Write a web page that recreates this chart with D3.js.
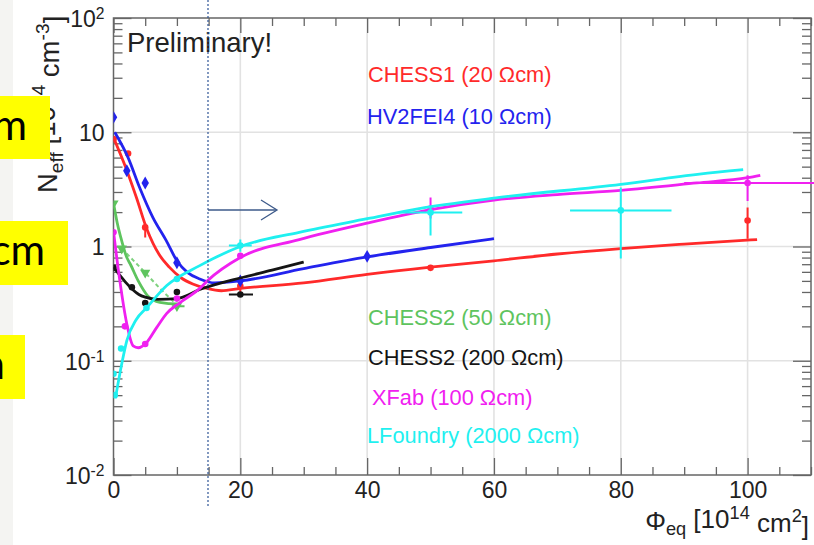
<!DOCTYPE html>
<html><head><meta charset="utf-8">
<script src="https://cdn.jsdelivr.net/npm/d3@7"></script>
<style>body{margin:0;background:#fff}svg{display:block}</style>
</head><body>
<svg id="c" width="814" height="545"></svg>
<script>
// ---- data (phi in 1e14 cm^-2, Neff in 1e14 cm^-3) ----
const xMajorTicks = [0, 20, 40, 60, 80, 100];
const yMajorTicks = [0.01, 0.1, 1, 10, 100];
const yTickLabels = [["10","-2"],["10","-1"],["1",""],["10",""],["10","2"]];

// fitted curves
const chess1Fit = [[0,9.0],[1.7,5.3],[3.6,2.7],[5.3,1.4],[7.2,0.85],[8.8,0.66],[10.7,0.53],[12.5,0.47],[14.7,0.43],[17,0.41],[20,0.43],[30,0.48],[40,0.57],[50,0.66],[60,0.75],[70,0.86],[80,0.96],[90,1.05],[101.5,1.15]];
const hv2fei4Fit = [[0.2,10],[2.3,6.0],[4.1,3.3],[6.2,1.8],[8.3,1.13],[10,0.75],[11.7,0.59],[13.6,0.52],[16,0.48],[20,0.5],[30,0.64],[40,0.81],[50,0.98],[60,1.17]];
const chess2_50Fit = [[0,2.4],[0.6,1.6],[1.3,1.12],[2.1,0.8],[2.6,0.71],[3.9,0.5],[5.4,0.37],[7.3,0.325],[10,0.315],[10.5,0.315]];
const chess2_50Dash = [[1.3,0.96],[5,0.59],[7.5,0.42],[10,0.31]];
const chess2_200Fit = [[0,0.66],[1,0.56],[2,0.48],[3,0.42],[4,0.38],[5,0.36],[7,0.345],[10,0.35],[13.6,0.42],[20,0.53],[25,0.62],[30,0.73]];
const xfabFit = [[0,1.35],[1,0.5],[2.1,0.21],[3.1,0.135],[3.9,0.13],[5.2,0.144],[6.8,0.195],[8.4,0.26],[10.4,0.32],[13.6,0.43],[14.8,0.5],[20,0.8],[29.3,1.15],[40,1.6],[50,2.1],[60,2.55],[70,2.85],[80,3.1],[92,3.6],[100,4.0],[102,4.2]];
const lfoundryFit = [[0.3,0.047],[1.4,0.1],[2.1,0.15],[3.6,0.23],[5.2,0.29],[8.4,0.455],[13.6,0.68],[20,1.0],[29.3,1.33],[40,1.75],[48.2,2.15],[60,2.65],[80,3.5],[92.4,4.3],[99.3,4.7]];

// measured points: [phi, Neff, phiLo, phiHi, NeffLo, NeffHi]
const chess1Pts = [[0,8.7],[2.3,6.5],[5,1.47,null,null,1.2,1.6],[20,0.45,null,null,0.4,0.5],[50,0.65],[100,1.69,null,null,1.17,2.2]];
const hv2fei4Pts = [[0,13.5],[2.1,4.6],[5,3.6],[10,0.72],[20,0.5],[40,0.82]];
const chess2_50Pts = [[0,2.38],[1.3,0.96],[5,0.59],[10,0.3,9.2,11.2,null,null]];
const chess2_200Pts = [[0,0.65],[2.9,0.44],[5,0.32],[10,0.4],[20,0.38,18.2,22,null,null]];
const xfabPts = [[0,1.33],[1.8,0.2],[5,0.14],[10,0.35],[20,0.83],[50,2.15,null,null,1.76,2.69],[100,3.6,90,112,2.5,4.2]];
const lfoundryPts = [[0,0.077],[0.2,0.05],[1.2,0.128],[5.2,0.29],[10,0.52],[20,1.02,18.2,21.8,0.9,1.15],[50,1.98,45,55,1.25,2.2],[80,2.07,72,88,0.785,3.29]];

const legendLabels = ["CHESS1 (20 Ωcm)","HV2FEI4 (10 Ωcm)","CHESS2 (50 Ωcm)","CHESS2 (200 Ωcm)","XFab (100 Ωcm)","LFoundry (2000 Ωcm)"];
const boxTexts = ["m","cm","n"];

// ---- drawing ----
const svg = d3.select("#c");
const X0 = 113.5, X1 = 811, Y0 = 475, Y1 = 18;
const x = d3.scaleLinear().domain([0,110]).range([X0,X1]);
const y = d3.scaleLog().domain([0.01,100]).range([Y0,Y1]);

svg.append("rect").attr("x",0).attr("y",0).attr("width",13).attr("height",545).attr("fill","#f4f4f2");

// grid
const g = svg.append("g");
g.selectAll(".vg").data(xMajorTicks.slice(1)).join("line")
  .attr("x1",d=>x(d)).attr("x2",d=>x(d)).attr("y1",Y1).attr("y2",Y0)
  .attr("stroke","#e2e2e2").attr("stroke-width",1.6);
g.selectAll(".hg").data([0.1,1,10]).join("line")
  .attr("x1",X0).attr("x2",X1).attr("y1",d=>y(d)).attr("y2",d=>y(d))
  .attr("stroke","#e2e2e2").attr("stroke-width",1.6);

const minorX = d3.range(0,111,5).filter(v=>v%20!==0);
const minorY = [];
[0.01,0.1,1,10].forEach(dd=>{for(let k=2;k<=9;k++) minorY.push(dd*k);});

function styleAxis(sel){
  sel.select(".domain").remove();
  sel.selectAll(".tick line").attr("stroke","#666").attr("stroke-width",1.3);
}
const font = "'Liberation Sans', Arial, sans-serif";

// bottom
const bAx = svg.append("g").attr("transform",`translate(0,${Y0})`)
  .call(d3.axisBottom(x).tickValues(xMajorTicks).tickSize(-17).tickPadding(7).tickFormat(d3.format("d")));
styleAxis(bAx);
bAx.selectAll("text").attr("font-family",font).attr("font-size",23).attr("fill","#222");
const bMin = svg.append("g").attr("transform",`translate(0,${Y0})`)
  .call(d3.axisBottom(x).tickValues(minorX).tickSize(-8).tickFormat(""));
styleAxis(bMin);
// top
const tAx = svg.append("g").attr("transform",`translate(0,${Y1})`)
  .call(d3.axisTop(x).tickValues(xMajorTicks).tickSize(-15).tickFormat(""));
styleAxis(tAx);
const tMin = svg.append("g").attr("transform",`translate(0,${Y1})`)
  .call(d3.axisTop(x).tickValues(minorX).tickSize(-8).tickFormat(""));
styleAxis(tMin);
// left
const lAx = svg.append("g").attr("transform",`translate(${X0},0)`)
  .call(d3.axisLeft(y).tickValues(yMajorTicks).tickSize(-18).tickPadding(8).tickFormat(""));
styleAxis(lAx);
lAx.selectAll(".tick").each(function(d,i){
  const t = d3.select(this).select("text").attr("font-family",font).attr("font-size",23).attr("fill","#222").attr("dy","0.36em");
  const lab = yTickLabels[i];
  t.text(null);
  t.append("tspan").text(lab[0]);
  if(lab[1]) t.append("tspan").attr("dy","-0.5em").attr("font-size","0.68em").text(lab[1]);
});
lAx.selectAll(".tick text").attr("x",-9);
const lMin = svg.append("g").attr("transform",`translate(${X0},0)`)
  .call(d3.axisLeft(y).tickValues(minorY).tickSize(-9).tickFormat(""));
styleAxis(lMin);
// right
const rAx = svg.append("g").attr("transform",`translate(${X1},0)`)
  .call(d3.axisRight(y).tickValues(yMajorTicks).tickSize(-18).tickFormat(""));
styleAxis(rAx);
const rMin = svg.append("g").attr("transform",`translate(${X1},0)`)
  .call(d3.axisRight(y).tickValues(minorY).tickSize(-9).tickFormat(""));
styleAxis(rMin);

// frame
svg.append("rect").attr("x",X0).attr("y",Y1).attr("width",X1-X0).attr("height",Y0-Y1)
  .attr("fill","none").attr("stroke","#666").attr("stroke-width",1.5);

// clip
svg.append("clipPath").attr("id","clip").append("rect").attr("x",X0).attr("y",Y1).attr("width",X1-X0+3).attr("height",Y0-Y1+8);
const plot = svg.append("g").attr("clip-path","url(#clip)");

const series = [
  {fit:chess1Fit, pts:chess1Pts, color:"#ff2a2a", marker:"circle"},
  {fit:hv2fei4Fit, pts:hv2fei4Pts, color:"#2323ee", marker:"diamond"},
  {fit:chess2_50Fit, pts:chess2_50Pts, color:"#5ec45e", marker:"tri"},
  {fit:chess2_200Fit, pts:chess2_200Pts, color:"#151515", marker:"circle"},
  {fit:xfabFit, pts:xfabPts, color:"#f020f0", marker:"circle"},
  {fit:lfoundryFit, pts:lfoundryPts, color:"#1ff0f0", marker:"circle"}
];
const line = d3.line().x(d=>x(d[0])).y(d=>y(d[1])).curve(d3.curveMonotoneX);

// dashed green
plot.append("path").attr("d",line(chess2_50Dash)).attr("fill","none")
  .attr("stroke","#7fd27f").attr("stroke-width",2).attr("stroke-dasharray","4,3");

series.forEach(s=>{
  const gg = plot.append("g");
  s.pts.forEach(p=>{
    if(p[2]!=null) gg.append("line").attr("x1",x(p[2])).attr("x2",x(p[3])).attr("y1",y(p[1])).attr("y2",y(p[1]))
      .attr("stroke",s.color).attr("stroke-width",2);
    if(p[4]!=null) gg.append("line").attr("x1",x(p[0])).attr("x2",x(p[0])).attr("y1",y(p[4])).attr("y2",y(p[5]))
      .attr("stroke",s.color).attr("stroke-width",2);
  });
  gg.append("path").attr("d",line(s.fit)).attr("fill","none").attr("stroke",s.color).attr("stroke-width",2.8);
  const sym = s.marker==="diamond" ? d3.symbol().type(d3.symbolDiamond).size(48)
            : s.marker==="tri" ? d3.symbol().type(d3.symbolTriangle).size(45)
            : d3.symbol().type(d3.symbolCircle).size(34);
  gg.selectAll(".m").data(s.pts).join("path")
    .attr("transform",d=>`translate(${x(d[0])},${y(d[1])})${s.marker==="tri"?" rotate(180)":""}`)
    .attr("d",sym()).attr("fill",s.color);
});

// legend texts
const legY = [82,124,325,365,405,443];
const legX = [368,367,368,368,372,367];
svg.selectAll(".leg").data(legendLabels).join("text")
  .attr("x",(d,i)=>legX[i]).attr("y",(d,i)=>legY[i]).text(d=>d)
  .attr("font-family",font).attr("font-size",21.8)
  .attr("fill",(d,i)=>series[i].color);

// Preliminary
svg.append("text").attr("x",127).attr("y",52).text("Preliminary!")
  .attr("font-family",font).attr("font-size",27.5).attr("fill","#222");

// x title
const xt = svg.append("text").attr("x",809).attr("y",530).attr("text-anchor","end")
  .attr("font-family",font).attr("font-size",26).attr("fill","#222");
xt.append("tspan").text("Φ");
xt.append("tspan").attr("dy","0.3em").attr("font-size","0.7em").text("eq");
xt.append("tspan").attr("dy","-0.3em").text(" [10");
xt.append("tspan").attr("dy","-0.5em").attr("font-size","0.7em").text("14");
xt.append("tspan").attr("dy","0.5em").text(" cm");
xt.append("tspan").attr("dy","-0.5em").attr("font-size","0.7em").text("2");
xt.append("tspan").attr("dy","0.5em").text("]");

// y title
const yt = svg.append("text").attr("transform","translate(57,193) rotate(-90)")
  .attr("font-family",font).attr("font-size",27.5).attr("fill","#222");
yt.append("tspan").text("N");
yt.append("tspan").attr("dy","0.3em").attr("font-size","0.7em").text("eff");
yt.append("tspan").attr("dy","-0.3em").text(" [10");
yt.append("tspan").attr("dy","-0.5em").attr("font-size","0.7em").text("14");
yt.append("tspan").attr("dy","0.5em").text(" cm");
yt.append("tspan").attr("dy","-0.5em").attr("font-size","0.7em").text("-3");
yt.append("tspan").attr("dy","0.5em").text("]");

// annotation overlay: dotted line and arrow
svg.append("line").attr("x1",208).attr("x2",208).attr("y1",0).attr("y2",508)
  .attr("stroke","#2f5597").attr("stroke-width",1.2).attr("stroke-dasharray","2,2");
svg.append("line").attr("x1",208).attr("x2",276).attr("y1",210).attr("y2",210)
  .attr("stroke","#3d5a8a").attr("stroke-width",1.3);
svg.append("path").attr("d","M261,200 L277,210 L261,220").attr("fill","none")
  .attr("stroke","#3d5a8a").attr("stroke-width",1.3);

// yellow boxes (slide overlay, text continues beyond left edge as in the source)
const boxes = [{x:0,y:96,w:50,h:63,tx:27},{x:0,y:221,w:68,h:64,tx:45},{x:0,y:335,w:25,h:64,tx:5}];
boxes.forEach((b,i)=>{
  svg.append("rect").attr("x",b.x).attr("y",b.y).attr("width",b.w).attr("height",b.h).attr("fill","#ffff00");
  svg.append("text").attr("x",b.tx).attr("y",b.y+44).attr("text-anchor","end")
    .attr("font-family","Lato, 'Open Sans', sans-serif").attr("font-size",42).attr("fill","#000").text(boxTexts[i]);
});
</script>
</body></html>
